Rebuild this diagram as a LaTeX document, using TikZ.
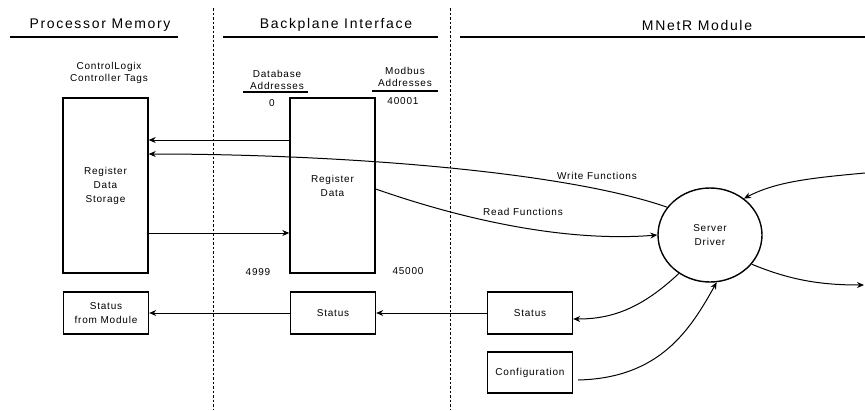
\documentclass[tikz,border=0pt]{standalone}
\usepackage{fontspec}
\newfontfamily\diagfont{Liberation Sans}[LetterSpace=8]
\newfontfamily\headfont{Liberation Sans}[LetterSpace=12]
\usetikzlibrary{arrows.meta,positioning,shapes.geometric,calc}

\begin{document}
\begin{tikzpicture}[x=1pt, y=-1pt,
    block/.style={draw, line width=1.4pt, align=center, minimum width=85pt, minimum height=42pt, inner sep=1pt, font=\diagfont\fontsize{10}{14}\selectfont},
    txt/.style={align=center, inner sep=0pt, font=\diagfont\fontsize{10}{12}\selectfont},
    head/.style={inner sep=0pt, font=\headfont\fontsize{14}{16}\selectfont},
    conn/.style={line width=1pt, -{Stealth[length=7pt,width=6pt]}},
    divider/.style={line width=1.1pt, dash pattern=on 2.5pt off 2pt},
    rule/.style={line width=1.4pt}
  ]
  \useasboundingbox (0,0) rectangle (865,410);

  \node[head] (hproc) at (100,25) {Processor Memory};
  \node[head] (hback) at (336,25) {Backplane Interface};
  \node[head] (hmod) at (697,25) {MNetR Module};
  \draw[rule] (10,37) -- (178,37);
  \draw[rule] (223,37) -- (438,37);
  \draw[rule] (460,37) -- (865,37);
  \draw[divider] (213.5,8) -- (213.5,410);
  \draw[divider] (450.5,8) -- (450.5,410);

  \node[txt] (tags) at (109,72.5) {ControlLogix\\Controller Tags};
  \node[txt] (dbaddr) at (277,79.5) {Database\\Addresses};
  \node[txt] (mbaddr) at (405,77) {Modbus\\Addresses};
  \draw[rule] (243,92) -- (308,92);
  \draw[rule] (372,91) -- (438,91);
  \node[txt] (db0) at (272,103) {0};
  \node[txt] (mb0) at (403,101) {40001};
  \node[txt] (db1) at (258,272) {4999};
  \node[txt] (mb1) at (408,271) {45000};

  \node[block, minimum height=175pt] (regstore) at (105.5,185.5) {Register\\Data\\Storage};
  \node[block, minimum height=175pt] (regdata) at (332.5,185.5) {Register\\Data};
  \node[block, ellipse, minimum width=104pt, minimum height=94pt] (drv) at (710,235) {Server\\Driver};
  \node[block] (stproc) at (106,313) {Status\\from Module};
  \node[block] (stback) at (333,313) {Status};
  \node[block] (stmod) at (530,313) {Status};
  \node[block, minimum height=41pt] (cfg) at (530,372.5) {Configuration};
  \coordinate (inR) at (865,173);
  \coordinate (outR) at (864,285);

  \draw[conn] ([yshift=45.5pt]regdata.west) -- ([yshift=45.5pt]regstore.east);
  \draw[conn] ([yshift=-47.5pt]regstore.east) -- ([yshift=-47.5pt]regdata.west);
  \draw[conn] (drv.147) .. controls (560,170) and (330,154) .. ([yshift=31.5pt]regstore.east);
  \draw[conn] ([yshift=-3.5pt]regdata.east) .. controls (470,222) and (570,242) .. (drv.west);
  \draw[conn] (inR) .. controls (810,178) and (775,182) .. (drv.47);
  \draw[conn] (drv.-35) .. controls (790,280) and (820,285) .. (outR);
  \node[txt] (wrfn) at (597,176) {Write Functions};
  \node[txt] (rdfn) at (523,212) {Read Functions};

  \draw[conn] (stback) -- (stproc);
  \draw[conn] (stmod) -- (stback);
  \draw[conn] (drv.231) .. controls (640,310) and (610,319) .. ([yshift=-6pt]stmod.east);
  \draw[conn] ([xshift=5pt,yshift=-7.5pt]cfg.east) .. controls (660,378) and (690,330) .. (drv.-82);
\end{tikzpicture}
\end{document}
